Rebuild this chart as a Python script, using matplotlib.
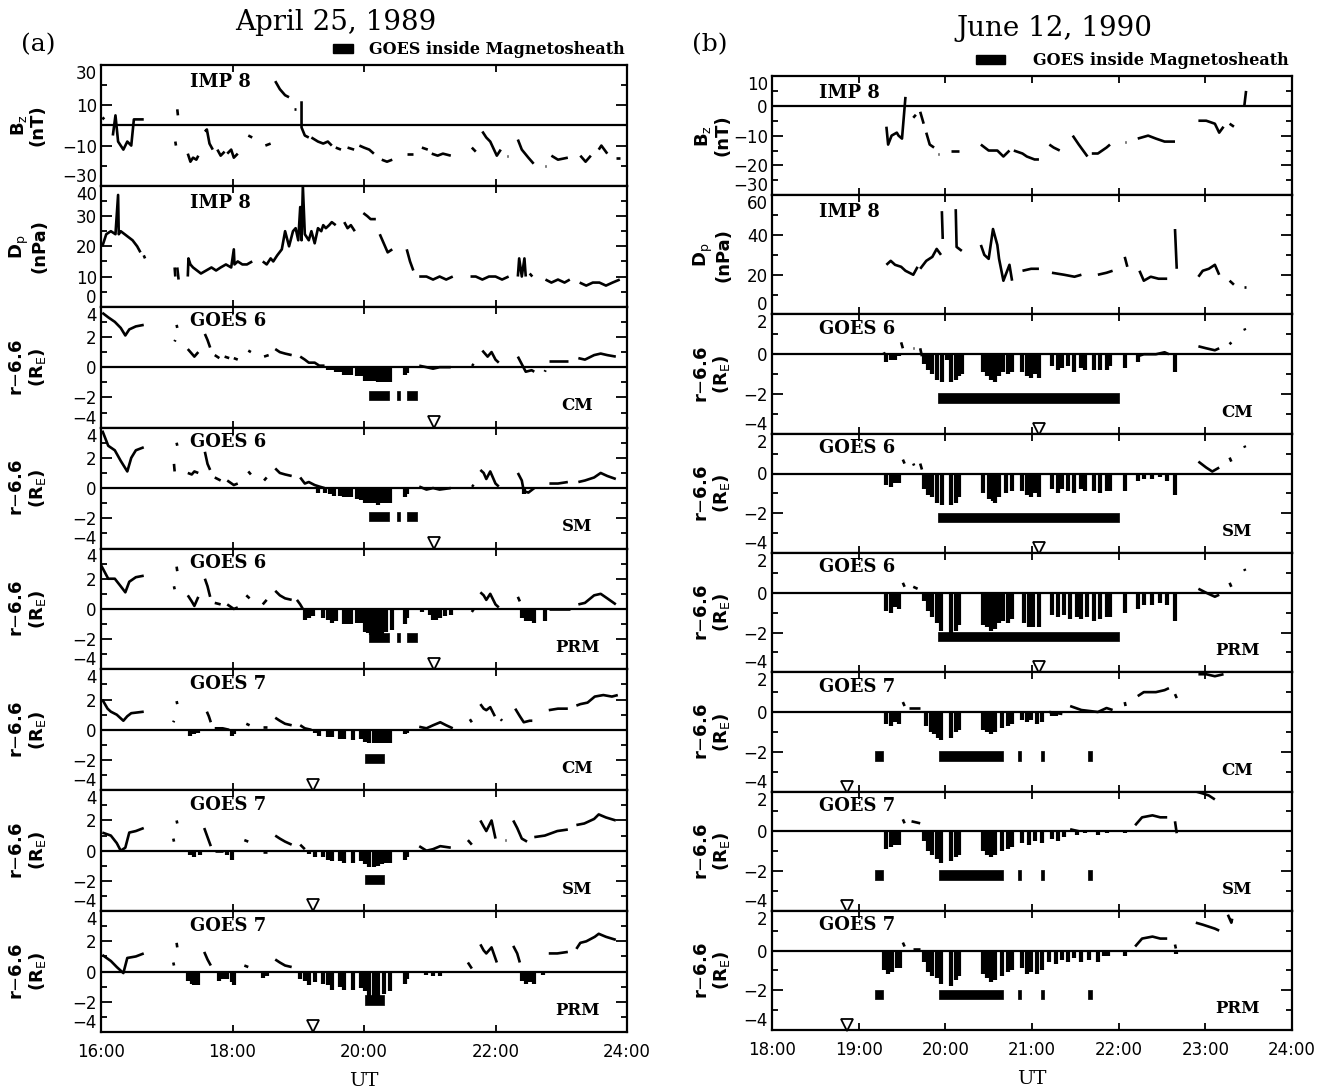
import numpy as np
import matplotlib
matplotlib.use('Agg')
import matplotlib.pyplot as plt
from matplotlib.patches import Patch
from matplotlib.ticker import FixedLocator, MultipleLocator, FuncFormatter

# ---------------- data (time in UT hours) ----------------
# (a) April 25, 1989
a_bz = [
    [(16.02, 3), (16.05, 4)],
    [(16.18, -5), (16.22, 5), (16.26, -8), (16.30, -10), (16.34, -12), (16.40, -8), (16.46, -10), (16.50, 3), (16.53, 3), (16.65, 3)],
    [(17.13, -8), (17.14, -10)],
    [(17.16, 8), (17.17, 5)],
    [(17.32, -14), (17.36, -18), (17.40, -16), (17.45, -17), (17.48, -15)],
    [(17.58, -3), (17.61, -2), (17.65, -9), (17.70, -12)],
    [(17.77, -12), (17.82, -15), (17.88, -13)],
    [(17.92, -14), (17.98, -12), (18.02, -16), (18.08, -14)],
    [(18.24, -5), (18.30, -6)],
    [(18.50, -10), (18.58, -9)],
    [(18.65, 22), (18.72, 18), (18.80, 15), (18.86, 14)],
    [(18.94, 8), (18.96, 8)],
    [(19.05, 12), (19.05, -1), (19.10, -5), (19.16, -6)],
    [(19.20, -6), (19.30, -8), (19.38, -9), (19.45, -8), (19.51, -10)],
    [(19.57, -11), (19.65, -12)],
    [(19.75, -11), (19.85, -12)],
    [(19.93, -10), (20.00, -11), (20.08, -12), (20.15, -14)],
    [(20.27, -17), (20.35, -18), (20.43, -17)],
    [(20.65, -14), (20.75, -14)],
    [(20.88, -11), (20.97, -12)],
    [(21.03, -14), (21.12, -15), (21.20, -14), (21.32, -15)],
    [(21.64, -11), (21.70, -13)],
    [(21.80, -3), (21.86, -6), (21.92, -8), (22.02, -15), (22.08, -12)],
    [(22.18, -15), (22.19, -15)],
    [(22.34, -7), (22.40, -12), (22.50, -16), (22.58, -19)],
    [(22.76, -20), (22.77, -20)],
    [(22.85, -15), (22.95, -17), (23.10, -16)],
    [(23.29, -15), (23.37, -18), (23.45, -15)],
    [(23.57, -12), (23.61, -10), (23.70, -14)],
    [(23.83, -16), (23.89, -16)],
]
a_dp = [
    [(16.02, 20), (16.08, 24), (16.15, 25), (16.22, 24), (16.26, 37), (16.27, 24), (16.30, 25), (16.36, 24),
     (16.42, 23), (16.48, 22), (16.55, 20), (16.60, 18)],
    [(16.65, 17), (16.67, 16)],
    [(17.12, 13), (17.13, 10)],
    [(17.16, 13), (17.18, 9)],
    [(17.32, 10), (17.33, 16), (17.36, 14), (17.40, 13), (17.46, 12), (17.52, 11), (17.60, 12), (17.68, 13),
     (17.75, 12), (17.82, 13), (17.90, 14), (17.98, 13), (18.02, 19), (18.03, 14), (18.08, 15), (18.15, 14),
     (18.22, 14), (18.30, 15)],
    [(18.46, 15), (18.52, 14), (18.58, 16), (18.62, 15), (18.68, 17), (18.75, 19), (18.80, 25), (18.86, 20),
     (18.92, 25), (18.96, 26), (19.00, 22), (19.03, 33), (19.05, 22), (19.07, 40), (19.10, 24), (19.13, 23),
     (19.16, 22), (19.20, 25), (19.25, 21), (19.30, 26), (19.35, 25), (19.38, 27), (19.42, 26), (19.47, 27),
     (19.51, 28), (19.57, 27)],
    [(19.70, 28), (19.75, 26), (19.80, 27), (19.86, 25)],
    [(19.99, 31), (20.05, 30), (20.10, 29), (20.18, 29)],
    [(20.24, 24), (20.30, 21), (20.36, 18), (20.43, 19)],
    [(20.65, 19), (20.70, 15), (20.75, 12)],
    [(20.84, 10), (20.95, 10), (21.05, 9), (21.15, 10), (21.25, 9), (21.35, 10)],
    [(21.62, 10), (21.70, 10), (21.80, 9), (21.90, 10), (22.00, 10), (22.10, 9), (22.20, 10)],
    [(22.34, 10), (22.36, 16), (22.40, 10), (22.44, 16), (22.46, 10)],
    [(22.52, 11), (22.56, 10)],
    [(22.76, 9), (22.85, 8), (22.95, 9), (23.05, 8), (23.13, 9)],
    [(23.28, 8), (23.38, 7), (23.48, 8), (23.58, 8), (23.68, 7), (23.78, 8), (23.89, 9)],
]

a_g6cm = [
    [(16.02, 3.6), (16.11, 3.3), (16.21, 3.0), (16.30, 2.6), (16.37, 2.1), (16.43, 2.5), (16.53, 2.7), (16.65, 2.8)],
    [(17.12, 1.7), (17.13, 1.8)],
    [(17.15, 2.8), (17.16, 2.6)],
    [(17.32, 1.2), (17.38, 0.9), (17.42, 0.7), (17.48, 1.0)],
    [(17.58, 2.2), (17.62, 1.8), (17.66, 1.3)],
    [(17.73, 0.8), (17.80, 0.6)], [(17.88, 0.7), (17.95, 0.6)], [(18.02, 0.6), (18.08, 0.5)],
    [(18.24, 1.1), (18.28, 1.0)],
    [(18.48, 0.7), (18.55, 0.8)],
    [(18.65, 1.2), (18.72, 1.0), (18.80, 0.9), (18.90, 0.8)],
    [(19.03, 0.7), (19.10, 0.5), (19.16, 0.3), (19.25, 0.3), (19.32, 0.1), (19.40, 0.1)],
    [(20.84, 0.1), (20.95, 0.0), (21.05, -0.1), (21.15, 0.0), (21.32, 0.0)],
    [(21.64, 0.2), (21.67, 0.1)],
    [(21.80, 1.1), (21.84, 0.9), (21.88, 0.7), (21.94, 1.0), (22.00, 0.5), (22.05, 0.3)],
    [(22.34, 0.7), (22.40, 0.2), (22.46, -0.3), (22.55, -0.2), (22.59, -0.3)],
    [(22.75, -0.3), (22.76, -0.2)],
    [(22.82, 0.4), (22.95, 0.4), (23.10, 0.4)],
    [(23.26, 0.6), (23.36, 0.5), (23.50, 0.8), (23.60, 0.9), (23.70, 0.8), (23.83, 0.7)],
]
a_g6cm_bars = [(19.45, -0.2), (19.51, -0.2), (19.57, -0.3), (19.63, -0.3), (19.70, -0.5), (19.76, -0.5), (19.80, -0.5),
               (19.89, -0.6), (19.96, -0.6), (20.02, -0.9), (20.06, -0.9), (20.10, -0.9), (20.15, -0.9), (20.21, -1.0),
               (20.27, -1.0), (20.34, -1.0), (20.40, -1.0), (20.62, -0.5), (20.66, -0.4)]

a_g6sm = [
    [(16.02, 3.8), (16.11, 2.8), (16.21, 2.5), (16.30, 1.8), (16.40, 1.1), (16.46, 2.0), (16.53, 2.5), (16.65, 2.7)],
    [(17.11, 1.6), (17.12, 1.1)],
    [(17.15, 3.0), (17.16, 2.8)],
    [(17.32, 1.0), (17.38, 0.9), (17.42, 1.1), (17.48, 1.0)],
    [(17.58, 2.4), (17.62, 1.6), (17.66, 1.2)],
    [(17.73, 0.7), (17.82, 0.5)], [(17.92, 0.5), (18.02, 0.2), (18.08, 0.3)],
    [(18.24, 1.1), (18.28, 0.9)],
    [(18.48, 0.5), (18.52, 0.7)],
    [(18.65, 1.3), (18.72, 1.0), (18.80, 0.9), (18.90, 0.8)],
    [(19.03, 0.7), (19.10, 0.3), (19.16, 0.4), (19.25, 0.2), (19.32, 0.1), (19.40, 0.0)],
    [(20.84, 0.1), (20.95, -0.1), (21.05, 0.0), (21.15, -0.1), (21.32, 0.0)],
    [(21.64, 0.2), (21.67, 0.1)],
    [(21.77, 1.2), (21.82, 1.0), (21.86, 0.6), (21.92, 1.1), (22.00, 0.3), (22.05, 0.1)],
    [(22.34, 1.0), (22.40, 0.5), (22.43, -0.2), (22.50, -0.3), (22.59, 0.0)],
    [(22.82, 0.3), (22.95, 0.3), (23.10, 0.4)],
    [(23.26, 0.4), (23.36, 0.5), (23.50, 0.7), (23.60, 1.0), (23.70, 0.8), (23.83, 0.6)],
]
a_g6sm_bars = [(19.30, -0.3), (19.40, -0.3), (19.48, -0.4), (19.55, -0.5), (19.63, -0.5), (19.70, -0.6), (19.76, -0.6),
               (19.80, -0.6), (19.89, -0.7), (19.96, -0.8), (20.02, -1.0), (20.06, -1.0), (20.10, -1.0), (20.15, -1.0),
               (20.21, -1.1), (20.27, -1.0), (20.34, -1.0), (20.40, -1.0), (20.62, -0.6), (20.66, -0.4), (22.43, -0.4)]

a_g6prm = [
    [(16.00, 2.9), (16.11, 2.0), (16.21, 2.0), (16.30, 1.5), (16.37, 1.1), (16.43, 1.8), (16.53, 2.1), (16.65, 2.2)],
    [(17.11, 1.5), (17.12, 1.3)],
    [(17.15, 2.8), (17.16, 2.5)],
    [(17.32, 0.9), (17.38, 0.5), (17.42, 0.2), (17.48, 0.8)],
    [(17.58, 2.0), (17.62, 1.5), (17.66, 0.8)],
    [(17.73, 0.4), (17.82, 0.3)], [(17.92, 0.3), (18.02, 0.0), (18.08, 0.1)],
    [(18.21, 0.9), (18.26, 0.7)],
    [(18.46, 0.3), (18.52, 0.6)],
    [(18.65, 1.2), (18.72, 0.9), (18.80, 0.7), (18.90, 0.6)],
    [(18.98, 0.6), (19.03, 0.3), (19.07, 0.0)],
    [(21.64, -0.2), (21.67, 0.0)],
    [(21.77, 1.1), (21.82, 0.9), (21.86, 0.6), (21.92, 1.0), (22.00, 0.3), (22.05, 0.1)],
    [(22.34, 0.8), (22.37, 0.5)],
    [(22.81, 0.0), (22.95, 0.0), (23.13, 0.0)],
    [(23.26, 0.3), (23.36, 0.4), (23.50, 0.9), (23.60, 1.0), (23.70, 0.7), (23.83, 0.3)],
]
a_g6prm_bars = [(19.10, -0.7), (19.16, -0.6), (19.23, -0.5), (19.38, -0.6), (19.45, -0.7), (19.51, -0.9), (19.57, -0.8),
                (19.70, -1.0), (19.76, -1.0), (19.80, -1.0), (19.89, -0.9), (19.96, -0.9), (20.02, -1.5), (20.06, -1.6),
                (20.10, -1.7), (20.15, -1.8), (20.21, -1.7), (20.27, -1.8), (20.34, -1.5), (20.43, -1.4), (20.62, -1.0),
                (20.66, -0.6), (20.88, -0.2), (21.00, -0.4), (21.05, -0.7), (21.10, -0.7), (21.16, -0.6), (21.23, -0.5),
                (21.32, -0.4), (22.40, -0.6), (22.46, -0.8), (22.52, -0.8), (22.59, -0.9), (22.75, -0.8)]

a_g7cm = [
    [(16.02, 2.0), (16.10, 1.4), (16.15, 1.2), (16.24, 1.0), (16.34, 0.6), (16.40, 0.9), (16.46, 1.1), (16.65, 1.2)],
    [(17.10, 0.5), (17.11, 0.6)],
    [(17.15, 1.9), (17.16, 1.7)],
    [(17.61, 1.2), (17.64, 0.9), (17.67, 0.5)],
    [(17.73, 0.1), (17.85, 0.1), (17.95, 0.0)],
    [(18.21, 0.4), (18.26, 0.3)],
    [(18.46, 0.2), (18.52, 0.2)],
    [(18.65, 0.8), (18.72, 0.6), (18.80, 0.4), (18.90, 0.3)],
    [(19.03, 0.3), (19.10, 0.1), (19.20, 0.0)],
    [(20.84, 0.2), (20.95, 0.1), (21.05, 0.3), (21.16, 0.5), (21.25, 0.3), (21.35, 0.1)],
    [(21.61, 0.7), (21.64, 0.5)],
    [(21.77, 1.7), (21.82, 1.4), (21.86, 1.3), (21.92, 1.5), (21.99, 0.9)],
    [(22.08, 0.7), (22.10, 0.6)],
    [(22.30, 1.4), (22.37, 0.9), (22.43, 0.5), (22.52, 0.6), (22.56, 0.6)],
    [(22.72, 0.6), (22.73, 0.6)],
    [(22.81, 1.3), (22.95, 1.4), (23.10, 1.4)],
    [(23.23, 1.6), (23.29, 1.7), (23.40, 1.8), (23.51, 2.2), (23.64, 2.3), (23.77, 2.2), (23.86, 2.3)],
]
a_g7cm_bars = [(17.35, -0.4), (17.42, -0.3), (17.48, -0.2), (17.54, -0.1), (17.99, -0.4), (18.02, -0.3), (19.26, -0.2),
               (19.32, -0.4), (19.45, -0.5), (19.51, -0.5), (19.63, -0.6), (19.70, -0.6), (19.83, -0.7), (19.96, -0.6),
               (20.02, -0.8), (20.08, -0.9), (20.15, -0.9), (20.21, -0.9), (20.27, -0.9), (20.34, -0.9), (20.40, -0.9),
               (20.62, -0.3), (20.66, -0.2)]

a_g7sm = [
    [(16.02, 1.2), (16.15, 1.0), (16.24, 0.5), (16.30, 0.0), (16.37, 0.2), (16.43, 1.2), (16.53, 1.3), (16.65, 1.5)],
    [(17.10, 0.8), (17.11, 0.6)],
    [(17.15, 2.0), (17.16, 1.8)],
    [(17.57, 1.5), (17.62, 0.9), (17.67, 0.3)],
    [(17.73, 0.0), (17.85, 0.0)],
    [(18.18, 0.7), (18.24, 0.6)],
    [(18.46, -0.1), (18.52, -0.1)],
    [(18.65, 1.0), (18.72, 0.8), (18.80, 0.6), (18.90, 0.4)],
    [(19.03, 0.4), (19.10, 0.1)],
    [(20.84, 0.3), (20.95, 0.0), (21.05, 0.1), (21.16, 0.3), (21.32, 0.2)],
    [(21.58, 0.7), (21.64, 0.4)],
    [(21.77, 2.0), (21.82, 1.6), (21.86, 1.3), (21.94, 2.0), (22.00, 0.8)],
    [(22.15, 0.7), (22.16, 0.7)],
    [(22.27, 2.0), (22.33, 1.5), (22.40, 0.8), (22.48, 0.6)],
    [(22.59, 0.9), (22.75, 1.0), (22.94, 1.3), (23.10, 1.4)],
    [(23.23, 1.7), (23.35, 1.8), (23.50, 2.1), (23.57, 2.4), (23.68, 2.2), (23.83, 2.0)],
]
a_g7sm_bars = [(17.35, -0.3), (17.42, -0.4), (17.51, -0.3), (17.92, -0.3), (17.99, -0.6), (19.16, -0.2), (19.26, -0.4),
               (19.38, -0.4), (19.45, -0.6), (19.51, -0.7), (19.63, -0.7), (19.70, -0.8), (19.83, -0.8), (19.96, -0.7),
               (20.02, -0.9), (20.08, -1.1), (20.15, -1.1), (20.21, -1.0), (20.27, -0.9), (20.34, -0.8), (20.40, -0.8),
               (20.62, -0.6), (20.66, -0.4)]

a_g7prm = [
    [(16.02, 1.1), (16.15, 0.7), (16.24, 0.3), (16.34, -0.1), (16.40, 0.9), (16.53, 1.0), (16.65, 1.2)],
    [(17.10, 0.6), (17.11, 0.4)],
    [(17.15, 1.9), (17.16, 1.6)],
    [(17.57, 1.3), (17.62, 0.8), (17.67, 0.4)],
    [(18.18, 0.4), (18.24, 0.3)],
    [(18.65, 0.8), (18.72, 0.6), (18.80, 0.4), (18.90, 0.3)],
    [(21.58, 0.6), (21.64, 0.2)],
    [(21.77, 1.8), (21.82, 1.4), (21.86, 1.2), (21.94, 1.6), (22.02, 0.6)],
    [(22.27, 1.7), (22.33, 1.2), (22.37, 0.6)],
    [(22.81, 1.2), (22.94, 1.2), (23.10, 1.3)],
    [(23.23, 1.5), (23.29, 1.9), (23.38, 2.0), (23.51, 2.3), (23.57, 2.5), (23.68, 2.3), (23.83, 2.1)],
]
a_g7prm_bars = [(17.32, -0.6), (17.38, -0.8), (17.42, -0.9), (17.48, -0.9), (17.80, -0.6), (17.86, -0.5), (17.92, -0.5),
                (17.99, -0.7), (18.02, -0.9), (18.46, -0.4), (18.52, -0.3), (19.03, -0.5), (19.10, -0.6), (19.16, -0.9),
                (19.26, -0.7), (19.38, -0.8), (19.45, -0.9), (19.51, -1.2), (19.63, -1.0), (19.70, -1.2), (19.83, -1.2),
                (19.96, -1.1), (20.02, -1.3), (20.08, -1.7), (20.15, -1.8), (20.21, -1.6), (20.30, -1.5), (20.40, -1.3),
                (20.62, -0.8), (20.66, -0.5), (20.95, -0.2), (21.05, -0.3), (21.16, -0.3), (22.40, -0.6), (22.46, -0.8),
                (22.52, -0.7), (22.59, -0.8), (22.72, -0.2)]

a_sheath_g6 = [(20.08, 20.38), (20.50, 20.55), (20.65, 20.81)]
a_sheath_g7 = [(20.02, 20.31)]
a_tri_g6 = 21.07
a_tri_g7 = 19.23

# (b) June 12, 1990
b_bz = [
    [(19.32, -7), (19.34, -13), (19.38, -10), (19.44, -9), (19.46, -10), (19.50, -11), (19.54, 3)],
    [(19.63, -4), (19.66, -3)],
    [(19.71, -2), (19.75, -6)],
    [(19.78, -9), (19.82, -13), (19.87, -14)],
    [(19.92, -16), (19.93, -16)],
    [(20.07, -15), (20.16, -15)],
    [(20.41, -13), (20.50, -15), (20.60, -15), (20.67, -17), (20.74, -15)],
    [(20.79, -15), (20.89, -16), (20.94, -17), (21.03, -18), (21.08, -18)],
    [(21.20, -13), (21.25, -14), (21.32, -15)],
    [(21.47, -10), (21.54, -13), (21.64, -17)],
    [(21.69, -16), (21.76, -16), (21.86, -14), (21.90, -13)],
    [(22.07, -12), (22.08, -12)],
    [(22.22, -11), (22.34, -10), (22.43, -11), (22.53, -12), (22.65, -12)],
    [(22.92, -5), (23.01, -5), (23.11, -6), (23.16, -9), (23.21, -7)],
    [(23.28, -6), (23.33, -7)],
    [(23.45, 0), (23.47, 5)],
]
b_dp = [
    [(19.32, 25), (19.37, 27), (19.42, 25), (19.49, 24), (19.54, 22), (19.63, 20), (19.68, 24)],
    [(19.71, 23), (19.78, 27), (19.85, 29), (19.90, 33), (19.95, 30)],
    [(19.96, 52), (19.97, 38)],
    [(20.12, 53), (20.13, 34), (20.19, 32)],
    [(20.41, 35), (20.45, 30), (20.50, 28), (20.55, 43), (20.60, 35), (20.62, 28), (20.67, 17), (20.74, 25), (20.77, 17)],
    [(20.89, 22), (20.99, 23), (21.08, 23)],
    [(21.23, 21), (21.37, 20), (21.49, 19), (21.57, 20)],
    [(21.76, 20), (21.86, 21), (21.93, 22)],
    [(22.07, 29), (22.10, 24)],
    [(22.24, 22), (22.29, 17), (22.37, 19), (22.46, 18), (22.56, 18)],
    [(22.65, 43), (22.67, 23)],
    [(22.92, 19), (22.97, 22), (23.04, 23), (23.11, 25), (23.16, 20)],
    [(23.28, 17), (23.33, 15)],
    [(23.45, 14), (23.47, 14)],
]

b_g6cm = [
    [(19.29, 0.1), (19.30, 0.0)],
    [(19.49, 0.6), (19.51, 0.3)],
    [(19.63, 0.3), (19.64, 0.3)],
    [(19.71, 0.3), (19.73, -0.1)],
    [(22.22, -0.1), (22.29, 0.0), (22.43, 0.0), (22.53, 0.1), (22.58, 0.0)],
    [(22.92, 0.4), (23.01, 0.3), (23.11, 0.2), (23.16, 0.3)],
    [(23.28, 0.6), (23.30, 0.5)],
    [(23.45, 1.3), (23.46, 1.2)],
]
b_g6cm_bars = [(19.32, -0.4), (19.37, -0.3), (19.42, -0.3), (19.46, -0.1), (19.75, -0.5), (19.80, -0.8), (19.85, -1.0),
               (19.90, -1.3), (19.96, -1.4), (20.02, -0.3), (20.07, -1.4), (20.12, -1.3), (20.16, -1.1), (20.19, -1.0),
               (20.43, -0.9), (20.48, -1.1), (20.53, -1.3), (20.57, -1.4), (20.62, -1.1), (20.67, -0.9), (20.72, -1.0),
               (20.77, -0.9), (20.89, -0.9), (20.94, -1.1), (20.99, -1.2), (21.03, -1.0), (21.08, -1.2), (21.23, -0.6),
               (21.30, -0.8), (21.35, -0.7), (21.42, -0.6), (21.49, -0.9), (21.57, -0.7), (21.61, -0.8), (21.71, -0.8),
               (21.78, -0.8), (21.86, -0.8), (21.90, -0.6), (22.07, -0.7), (22.22, -0.4), (22.65, -0.9)]

b_g6sm = [
    [(19.51, 0.7), (19.53, 0.5)],
    [(19.63, 0.5), (19.64, 0.4)],
    [(19.71, 0.5), (19.73, 0.2)],
    [(22.92, 0.6), (23.01, 0.3), (23.08, 0.1), (23.16, 0.3)],
    [(23.28, 0.8), (23.30, 0.6)],
    [(23.45, 1.4), (23.46, 1.3)],
]
b_g6sm_bars = [(19.32, -0.6), (19.37, -0.7), (19.42, -0.5), (19.46, -0.5), (19.75, -0.8), (19.80, -1.1), (19.85, -1.2),
               (19.90, -1.5), (19.96, -1.6), (20.07, -1.6), (20.12, -1.5), (20.16, -1.2), (20.43, -1.0), (20.50, -1.3),
               (20.55, -1.4), (20.57, -1.5), (20.62, -1.2), (20.70, -1.0), (20.77, -0.9), (20.89, -0.9), (20.94, -1.1),
               (20.99, -1.2), (21.03, -1.0), (21.08, -1.2), (21.23, -0.8), (21.30, -1.0), (21.35, -0.8), (21.42, -0.9),
               (21.49, -1.0), (21.57, -0.8), (21.61, -0.9), (21.71, -0.9), (21.78, -1.0), (21.86, -0.9), (21.90, -0.9),
               (22.07, -0.9), (22.22, -0.4), (22.29, -0.3), (22.39, -0.3), (22.48, -0.2), (22.56, -0.4), (22.65, -1.1)]

b_g6prm = [
    [(19.51, 0.5), (19.53, 0.3)],
    [(19.63, 0.3), (19.68, 0.2)],
    [(22.92, 0.2), (23.01, 0.0), (23.11, -0.2), (23.16, -0.1)],
    [(23.28, 0.5), (23.30, 0.3)],
    [(23.45, 1.2), (23.46, 1.1)],
]
b_g6prm_bars = [(19.32, -0.9), (19.37, -1.0), (19.42, -0.7), (19.46, -0.8), (19.75, -0.4), (19.80, -0.9), (19.85, -1.2),
                (19.90, -1.5), (19.95, -1.9), (20.07, -2.0), (20.12, -1.9), (20.16, -1.6), (20.43, -1.6), (20.48, -1.7),
                (20.53, -1.9), (20.57, -1.8), (20.62, -1.5), (20.67, -1.4), (20.72, -1.5), (20.77, -1.3), (20.91, -1.5),
                (20.96, -1.7), (21.01, -1.7), (21.08, -1.7), (21.23, -1.1), (21.30, -1.2), (21.37, -1.1), (21.44, -1.3),
                (21.52, -1.2), (21.57, -1.3), (21.64, -1.2), (21.71, -1.4), (21.78, -1.3), (21.86, -1.2), (21.90, -1.2),
                (22.07, -1.0), (22.22, -0.8), (22.29, -0.6), (22.39, -0.6), (22.48, -0.5), (22.56, -0.6), (22.65, -1.4)]

b_g7cm = [
    [(19.51, 0.5), (19.53, 0.3)],
    [(19.58, 0.2), (19.71, 0.2)],
    [(21.20, 0.0), (21.35, -0.1)],
    [(21.44, 0.3), (21.57, 0.1), (21.76, 0.0), (21.86, 0.2), (21.93, 0.1)],
    [(22.07, 0.5), (22.08, 0.3)],
    [(22.22, 0.8), (22.29, 1.0), (22.43, 1.0), (22.53, 1.1), (22.58, 1.2)],
    [(22.65, 0.9), (22.67, 0.7)],
    [(22.92, 1.9), (23.01, 1.9), (23.11, 1.8), (23.21, 1.9)],
]
b_g7cm_bars = [(19.32, -0.6), (19.37, -0.7), (19.42, -0.5), (19.46, -0.6), (19.78, -0.7), (19.83, -1.0), (19.87, -1.1),
               (19.92, -1.3), (19.95, -1.4), (20.07, -1.3), (20.12, -1.0), (20.16, -0.9), (20.43, -0.9), (20.48, -1.0),
               (20.53, -1.1), (20.57, -1.0), (20.65, -0.8), (20.72, -0.7), (20.77, -0.6), (20.89, -0.4), (20.94, -0.5),
               (20.99, -0.4), (21.06, -0.6), (21.11, -0.5), (21.23, -0.2), (21.28, -0.2)]

b_g7sm = [
    [(19.51, 0.6), (19.53, 0.4)],
    [(19.61, 0.5), (19.71, 0.4)],
    [(21.44, 0.1), (21.54, 0.0)],
    [(22.19, 0.3), (22.27, 0.7), (22.39, 0.8), (22.48, 0.7), (22.56, 0.7)],
    [(22.65, 0.5), (22.67, -0.1)],
    [(22.89, 2.0), (22.97, 1.9), (23.04, 1.8), (23.11, 1.6)],
]
b_g7sm_bars = [(19.32, -0.9), (19.37, -0.8), (19.42, -0.7), (19.46, -0.7), (19.75, -0.5), (19.80, -1.0), (19.85, -1.2),
               (19.90, -1.4), (19.95, -1.6), (20.07, -1.5), (20.12, -1.3), (20.16, -1.2), (20.43, -1.0), (20.48, -1.2),
               (20.53, -1.3), (20.57, -1.2), (20.65, -1.0), (20.72, -0.9), (20.77, -0.8), (20.89, -0.6), (20.96, -0.7),
               (21.03, -0.5), (21.11, -0.6), (21.23, -0.4), (21.30, -0.5), (21.37, -0.3), (21.52, -0.2), (21.61, -0.1),
               (21.76, -0.2), (21.86, -0.1), (22.07, -0.1)]

b_g7prm = [
    [(19.51, 0.4), (19.53, 0.2)],
    [(19.63, 0.1), (19.71, 0.1)],
    [(22.19, 0.2), (22.27, 0.6), (22.39, 0.7), (22.48, 0.6), (22.56, 0.6)],
    [(22.65, 0.3), (22.66, 0.1)],
    [(22.89, 1.4), (22.97, 1.3), (23.04, 1.2), (23.11, 1.1), (23.16, 1.0)],
    [(23.26, 1.8), (23.30, 1.4), (23.31, 1.6)],
]
b_g7prm_bars = [(19.29, -1.0), (19.34, -1.2), (19.39, -1.1), (19.44, -0.9), (19.48, -0.9), (19.75, -0.6), (19.80, -1.1),
                (19.85, -1.3), (19.90, -1.4), (19.95, -1.7), (20.07, -1.8), (20.12, -1.5), (20.16, -1.3), (20.43, -1.2),
                (20.48, -1.4), (20.53, -1.6), (20.57, -1.5), (20.65, -1.3), (20.72, -1.1), (20.77, -1.0), (20.89, -0.9),
                (20.94, -1.2), (20.99, -1.1), (21.06, -1.2), (21.11, -1.0), (21.20, -0.6), (21.28, -0.7), (21.35, -0.5),
                (21.42, -0.6), (21.49, -0.4), (21.57, -0.6), (21.66, -0.5), (21.76, -0.6), (21.83, -0.3), (21.88, -0.3),
                (22.07, -0.3), (22.66, -0.2)]

b_sheath_g6 = [(19.92, 22.00)]
b_sheath_g7 = [(19.19, 19.28), (19.93, 20.67), (20.84, 20.87), (21.10, 21.14), (21.65, 21.69)]
b_tri_g6 = 21.08
b_tri_g7 = 18.87

# ---------------- figure ----------------
W, H = 1322, 1090
fig = plt.figure(figsize=(W / 100, H / 100), dpi=100)
SERIF = 'DejaVu Serif'
SANS = 'DejaVu Sans'


def add_px_axes(x0, y0, w, h):
    return fig.add_axes([x0 / W, 1 - (y0 + h) / H, w / W, h / H])


def style_axes(ax, xlim, xmajor, ylim, yticks, yminor, show_x):
    ax.set_xlim(*xlim)
    ax.set_ylim(*ylim)
    ax.xaxis.set_major_locator(MultipleLocator(xmajor))
    ax.yaxis.set_major_locator(FixedLocator(yticks))
    ax.yaxis.set_minor_locator(FixedLocator(yminor))
    ax.tick_params(which='both', direction='in', top=True, right=True, width=1.3,
                   labelsize=12, pad=3)
    ax.tick_params(which='major', length=8)
    ax.tick_params(which='minor', length=4)
    ax.tick_params(axis='x', which='major', length=5)
    for s in ax.spines.values():
        s.set_linewidth(1.6)
    if show_x:
        ax.xaxis.set_major_formatter(FuncFormatter(lambda x, p: f'{int(round(x)):02d}:00'))
        ax.tick_params(axis='x', pad=8)
        ax.set_xlabel('UT', fontsize=14, fontfamily=SERIF, labelpad=8)
    else:
        ax.tick_params(axis='x', labelbottom=False)
    # keep the edge labels inside their own panel, as in the print
    ticks = ax.yaxis.get_major_ticks()
    ticks[0].label1.set_verticalalignment('bottom')
    ticks[-1].label1.set_verticalalignment('top')
    for lab in ax.get_yticklabels() + ax.get_xticklabels():
        lab.set_fontfamily(SANS)


def draw_panel(ax, segs, bars=None, sheath=None, sheath_y=None, tri=None, tri_y=None, zero=True):
    if zero:
        ax.axhline(0, color='k', lw=1.6)
    for seg in segs:
        t, v = zip(*seg)
        ax.plot(t, v, color='k', lw=1.9, solid_capstyle='butt')
    if bars:
        t, d = zip(*bars)
        ax.vlines(t, 0, d, color='k', lw=3.0)
    if sheath:
        ax.broken_barh([(a, b - a) for a, b in sheath], sheath_y, facecolor='k', edgecolor='k', lw=0.5)
    if tri is not None:
        ax.plot([tri], [tri_y], marker='v', ms=8, mfc='white', mec='k', mew=1.3, ls='none', clip_on=False)


goes_lab = r'r$-$6.6' + '\n' + r'(R$_\mathrm{E}$)'
bz_lab = r'B$_\mathrm{z}$' + '\n(nT)'
dp_lab = r'D$_\mathrm{p}$' + '\n(nPa)'

columns = [
    dict(x0=101, w=526, y0=65, h=967, xlim=(16, 24), xmajor=2,
         bz=a_bz, dp=a_dp, bz_lim=(-30, 30), bz_ticks=[-30, -10, 10, 30], bz_minor=[-20, 0, 20],
         dp_lim=(0, 40), dp_ticks=[0, 10, 20, 30, 40], dp_minor=[5, 15, 25, 35],
         g_lim=(-4, 4), g_ticks=[-4, -2, 0, 2, 4], g_minor=[-3, -1, 1, 3],
         goes=[('GOES 6', 'CM', a_g6cm, a_g6cm_bars, a_sheath_g6, a_tri_g6),
               ('GOES 6', 'SM', a_g6sm, a_g6sm_bars, a_sheath_g6, a_tri_g6),
               ('GOES 6', 'PRM', a_g6prm, a_g6prm_bars, a_sheath_g6, a_tri_g6),
               ('GOES 7', 'CM', a_g7cm, a_g7cm_bars, a_sheath_g7, a_tri_g7),
               ('GOES 7', 'SM', a_g7sm, a_g7sm_bars, a_sheath_g7, a_tri_g7),
               ('GOES 7', 'PRM', a_g7prm, a_g7prm_bars, a_sheath_g7, a_tri_g7)],
         sheath_y=(-2.2, 0.62), tri_y=-3.62, name_x=0.17, tag_x=0.905,
         title='April 25, 1989', title_xy=(336, 22), panel='(a)', panel_xy=(38, 45),
         ylab_x=28, leg_handle=1.2, leg_pad=1.0),
    dict(x0=772, w=520, y0=76, h=954, xlim=(18, 24), xmajor=1,
         bz=b_bz, dp=b_dp, bz_lim=(-30, 10), bz_ticks=[-30, -20, -10, 0, 10], bz_minor=[-25, -15, -5, 5],
         dp_lim=(0, 60), dp_ticks=[0, 20, 40, 60], dp_minor=[10, 30, 50],
         g_lim=(-4, 2), g_ticks=[-4, -2, 0, 2], g_minor=[-3, -1, 1],
         goes=[('GOES 6', 'CM', b_g6cm, b_g6cm_bars, b_sheath_g6, b_tri_g6),
               ('GOES 6', 'SM', b_g6sm, b_g6sm_bars, b_sheath_g6, b_tri_g6),
               ('GOES 6', 'PRM', b_g6prm, b_g6prm_bars, b_sheath_g6, b_tri_g6),
               ('GOES 7', 'CM', b_g7cm, b_g7cm_bars, b_sheath_g7, b_tri_g7),
               ('GOES 7', 'SM', b_g7sm, b_g7sm_bars, b_sheath_g7, b_tri_g7),
               ('GOES 7', 'PRM', b_g7prm, b_g7prm_bars, b_sheath_g7, b_tri_g7)],
         sheath_y=(-2.45, 0.48), tri_y=-3.75, name_x=0.09, tag_x=0.895,
         title='June 12, 1990', title_xy=(1054, 28), panel='(b)', panel_xy=(710, 45),
         ylab_x=712, leg_handle=1.8, leg_pad=1.8),
]

for col in columns:
    ph = col['h'] / 8
    axes = [add_px_axes(col['x0'], col['y0'] + i * ph, col['w'], ph) for i in range(8)]

    # IMP 8 Bz
    ax = axes[0]
    draw_panel(ax, col['bz'])
    style_axes(ax, col['xlim'], col['xmajor'], col['bz_lim'], col['bz_ticks'], col['bz_minor'], False)
    ax.text(col['name_x'], 0.86, 'IMP 8', transform=ax.transAxes, fontsize=13, fontweight='bold',
            fontfamily=SERIF, va='center', ha='left')
    ax.legend(handles=[Patch(facecolor='k', edgecolor='k')], labels=['GOES inside Magnetosheath'],
              loc='lower right', bbox_to_anchor=(1.01, 0.99), frameon=False, handlelength=col['leg_handle'],
              handleheight=0.5, handletextpad=col['leg_pad'], borderaxespad=0.1,
              prop=dict(family=SERIF, weight='bold', size=11.5))

    # IMP 8 Dp
    ax = axes[1]
    draw_panel(ax, col['dp'], zero=False)
    style_axes(ax, col['xlim'], col['xmajor'], col['dp_lim'], col['dp_ticks'], col['dp_minor'], False)
    ax.text(col['name_x'], 0.86, 'IMP 8', transform=ax.transAxes, fontsize=13, fontweight='bold',
            fontfamily=SERIF, va='center', ha='left')

    for k, (name, tag, segs, bars, sheath, tri) in enumerate(col['goes']):
        ax = axes[2 + k]
        draw_panel(ax, segs, bars, sheath, col['sheath_y'], tri, col['tri_y'])
        style_axes(ax, col['xlim'], col['xmajor'], col['g_lim'], col['g_ticks'], col['g_minor'], k == 5)
        ax.text(col['name_x'], 0.88, name, transform=ax.transAxes, fontsize=13, fontweight='bold',
                fontfamily=SERIF, va='center', ha='left')
        ax.text(col['tag_x'], 0.18, tag, transform=ax.transAxes, fontsize=12, fontweight='bold',
                fontfamily=SERIF, va='center', ha='center')

    # y labels, placed at a fixed pixel column
    labels = [bz_lab, dp_lab] + [goes_lab] * 6
    for i, lab in enumerate(labels):
        yc = col['y0'] + (i + 0.5) * ph
        fig.text(col['ylab_x'] / W, 1 - yc / H, lab, rotation=90, ha='center', va='center',
                 fontsize=13, fontfamily=SANS, fontweight='bold', linespacing=1.0)

    fig.text(col['title_xy'][0] / W, 1 - col['title_xy'][1] / H, col['title'], ha='center', va='center',
             fontsize=20, fontfamily=SERIF)
    fig.text(col['panel_xy'][0] / W, 1 - col['panel_xy'][1] / H, col['panel'], ha='center', va='center',
             fontsize=18, fontfamily=SERIF)

fig.savefig('out.png', dpi=100)
